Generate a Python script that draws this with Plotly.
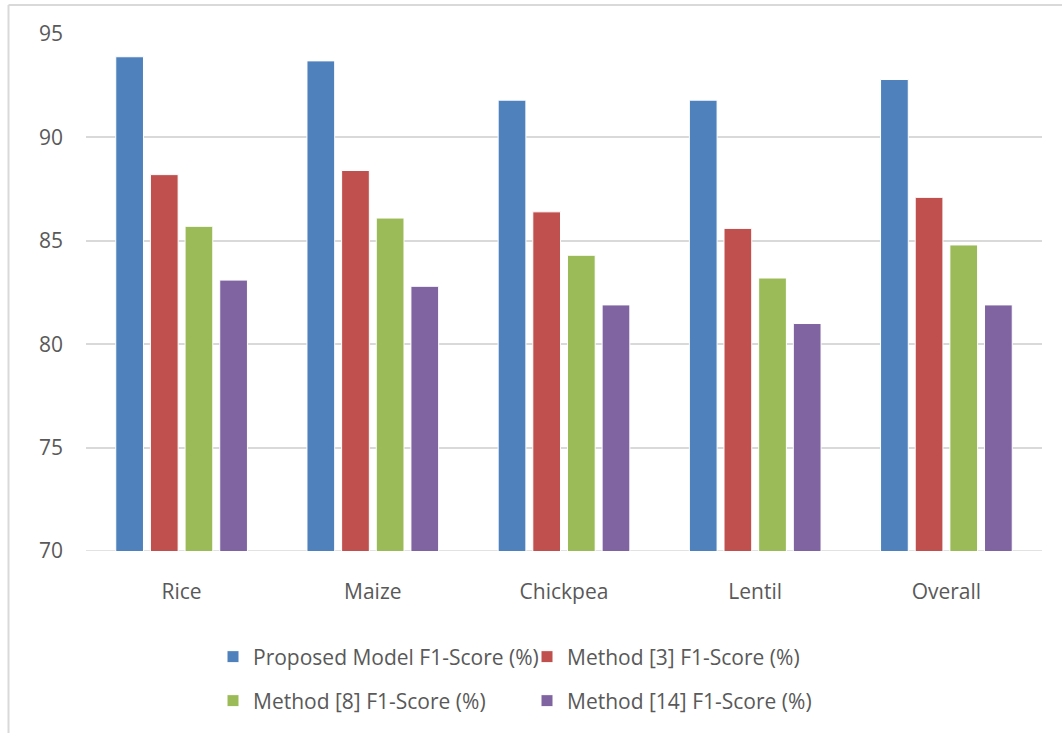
import plotly.graph_objects as go

categories = ["Rice", "Maize", "Chickpea", "Lentil", "Overall"]
series_names = [
    "Proposed Model F1-Score (%)",
    "Method [3] F1-Score (%)",
    "Method [8] F1-Score (%)",
    "Method [14] F1-Score (%)",
]
proposed = [93.9, 93.7, 91.8, 91.8, 92.8]
method3 = [88.2, 88.4, 86.4, 85.6, 87.1]
method8 = [85.7, 86.1, 84.3, 83.2, 84.8]
method14 = [83.1, 82.8, 81.9, 81.0, 81.9]
y_ticks = [70, 75, 80, 85, 90, 95]

colors = ["#4F81BD", "#C0504D", "#9BBB59", "#8064A2"]
values = [proposed, method3, method8, method14]

W, H = 1062, 733
ML, MR, MT, MB = 86, 20, 34, 182
pw = W - ML - MR
ph = H - MT - MB

def px_x(x):
    return (x - ML) / pw

def px_y(y):
    return 1 - (y - MT) / ph

legend_ids = ["legend", "legend2", "legend3", "legend4"]
legend_pos = [(253, 657), (567, 657), (253, 701), (567, 701)]

fig = go.Figure()
for i, (name, vals) in enumerate(zip(series_names, values)):
    fig.add_trace(go.Bar(
        x=categories, y=vals, name=name,
        marker=dict(color=colors[i], line=dict(color="white", width=1)),
        legend=legend_ids[i], showlegend=True,
    ))

font = dict(family="Open Sans, Noto Sans, sans-serif", size=21, color="#595959")

layout_legends = {}
for i, lid in enumerate(legend_ids):
    lx, ly = legend_pos[i]
    layout_legends[lid] = dict(
        x=px_x(lx - 40), y=px_y(ly), xanchor="left", yanchor="middle",
        orientation="h", font=font, bgcolor="rgba(0,0,0,0)",
        itemwidth=30, visible=True,
    )

fig.update_layout(
    width=W, height=H,
    margin=dict(l=ML, r=MR, t=MT, b=MB),
    paper_bgcolor="white", plot_bgcolor="white",
    showlegend=True,
    barmode="group", bargap=0.275, bargroupgap=0.2,
    font=font,
    xaxis=dict(showgrid=False, showline=False, ticks="", tickfont=font,
               ticklabelstandoff=26),
    yaxis=dict(range=[70, 95], tickvals=y_ticks, showgrid=True,
               gridcolor="#D9D9D9", gridwidth=1.5, zeroline=False,
               showline=False, ticks="", tickfont=font, ticklabelstandoff=22),
    **layout_legends,
)

# baseline at 70
fig.add_shape(type="line", xref="paper", yref="y", x0=0, x1=1, y0=70, y1=70,
              line=dict(color="#D9D9D9", width=1.5), layer="below")
# chart area border (left and top)
fig.add_shape(type="line", xref="paper", yref="paper",
              x0=px_x(8.5), x1=px_x(8.5), y0=px_y(5), y1=px_y(H + 5),
              line=dict(color="#D9D9D9", width=2))
fig.add_shape(type="line", xref="paper", yref="paper",
              x0=px_x(8.5), x1=px_x(W + 5), y0=px_y(5), y1=px_y(5),
              line=dict(color="#D9D9D9", width=2))

fig.write_html("out.html")
